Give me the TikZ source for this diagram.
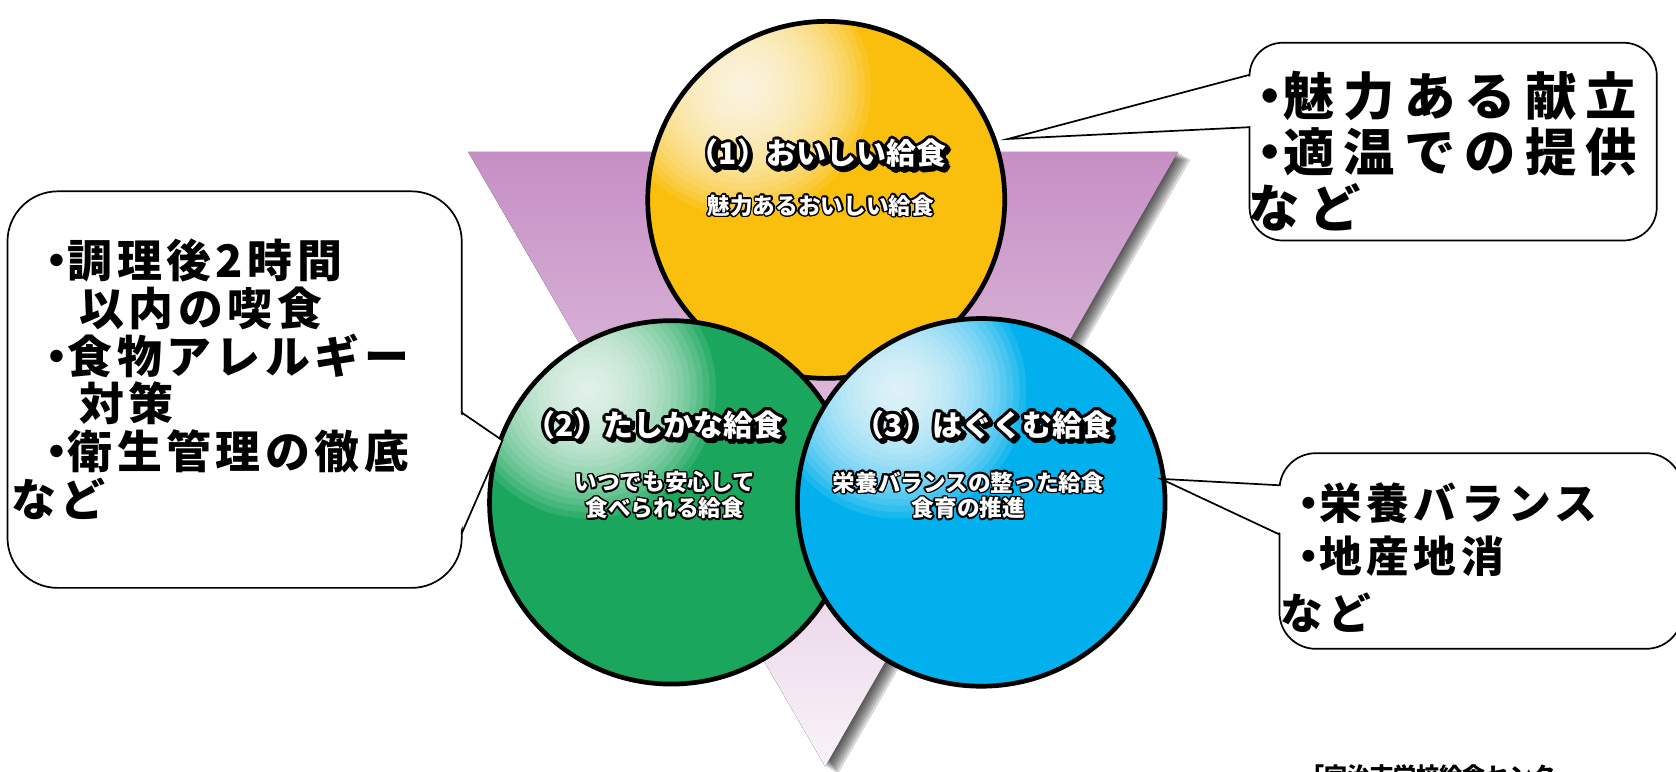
\documentclass[tikz,border=0pt]{standalone}
\usepackage{fontspec}
\usepackage{contour}
\usetikzlibrary{calc}
\newfontfamily\jp{Noto Sans CJK JP}
\definecolor{tri}{RGB}{198,143,196}
\definecolor{ylw}{RGB}{250,191,12}
\definecolor{grn}{RGB}{27,166,93}
\definecolor{blu}{RGB}{2,176,238}
\def\bul{{\addfontfeature{RawFeature=+palt}・}}
\def\ttl#1{\contourlength{1.3pt}\rlap{\hspace{1.3pt}\raisebox{-1.3pt}{\textcolor{black}{\contour{black}{#1}}}}\contour{black}{#1}}
\def\sbt#1{\contourlength{0.7pt}\contour{black}{#1}}

\tikzset{
	ball/.style={circle, draw=black, line width=2.2pt, fill=#1, inner sep=0pt,
		path picture={\foreach \r in {3,6,...,60}
			\fill[white, opacity=0.1] ($(path picture bounding box.center)+(-78,-105)$) circle [radius=\r pt];}},
	bubble/.style={draw=black, line width=0.8pt, fill=white},
	ttlfont/.style={text=white, inner sep=0pt, font=\jp\bfseries\fontsize{14}{15}\selectfont},
	sbtfont/.style={text=white, inner sep=0pt, align=center, font=\jp\bfseries\fontsize{10.6}{12}\selectfont},
	note/.style 2 args={anchor=base west, inner sep=0pt, font=\jp\bfseries\fontsize{#1}{#1}\selectfont\addfontfeature{LetterSpace=#2}},
}

\begin{document}
\begin{tikzpicture}[x=0.5pt, y=-0.5pt]
		%%%%% START %%%%%
		\useasboundingbox[fill=white] (0,0) rectangle (1568,722);
		
		% triangle + shadow
		\coordinate (triL) at (438,142);
		\coordinate (triR) at (1102,142);
		\coordinate (triB) at (772,717);
		\foreach \d in {2,4,...,12}
			\fill[black, opacity=0.15] ($(triL)+(\d,0.6*\d)$) -- ($(triR)+(\d,0.6*\d)$) -- ($(triB)+(\d,0.6*\d)$) -- cycle;
		\fill[top color=tri, middle color=tri!80, bottom color=tri!10] (triL) -- (triR) -- (triB) -- cycle;
		
		% balls
		\node[ball=ylw, minimum size=167pt] (oishii) at (773,187) {};
		\node[ball=grn, minimum size=170pt] (tashika) at (628,470) {};
		\node[ball=blu, minimum size=172pt] (hagukumu) at (918,470) {};
		
		\node[ttlfont] (t1) at (765,146) {\ttl{（1）おいしい給食}};
		\node[sbtfont] (s1) at (768,193) {\sbt{魅力あるおいしい給食}};
		\node[ttlfont] (t2) at (612,400) {\ttl{（2）たしかな給食}};
		\node[sbtfont] (s2) at (622,464) {\sbt{いつでも安心して}\\\sbt{食べられる給食}};
		\node[ttlfont] (t3) at (920,400) {\ttl{（3）はぐくむ給食}};
		\node[sbtfont] (s3) at (906,464) {\sbt{栄養バランスの整った給食}\\\sbt{食育の推進}};
		
		% callout top right
		\coordinate (tipA) at (943,130);
		\draw[bubble, rounded corners=15.5pt] (1169,40) rectangle (1550,225);
		\fill[white] (1171,71) -- (tipA) -- (1171,118) -- cycle;
		\draw[line width=0.8pt] (1169,70) -- (tipA) -- (1169,119);
		\node[note={24}{18}] (a1) at (1176,108) {\bul 魅力ある献立};
		\node[note={24}{18}] (a2) at (1176,160) {\bul 適温での提供};
		\node[note={24}{18}] (a3) at (1168,213) {など};
		
		% callout left
		\coordinate (tipB) at (470,412);
		\draw[bubble, rounded corners=23.5pt] (7,179) rectangle (432,550);
		\fill[white] (430,387) -- (tipB) -- (430,498) -- cycle;
		\draw[line width=0.8pt] (432,386) -- (tipB) -- (432,499);
		\node[note={21}{10}] (b1) at (42,260) {\bul 調理後2時間};
		\node[note={21}{10}] (b2) at (74,304.6) {以内の喫食};
		\node[note={21}{10}] (b3) at (42,349.2) {\bul 食物アレルギー};
		\node[note={21}{10}] (b4) at (74,393.8) {対策};
		\node[note={21}{10}] (b5) at (42,438.4) {\bul 衛生管理の徹底};
		\node[note={21}{10}] (b6) at (10,483) {など};
		
		% callout bottom right
		\coordinate (tipC) at (1086,448);
		\draw[bubble, rounded corners=17pt] (1197,424) rectangle (1574,607);
		\fill[white] (1199,455) -- (tipC) -- (1199,499) -- cycle;
		\draw[line width=0.8pt] (1197,454) -- (tipC) -- (1197,500);
		\node[note={20}{10.5}] (c1) at (1214,486) {\bul 栄養バランス};
		\node[note={20}{10.5}] (c2) at (1214,536) {\bul 地産地消};
		\node[note={20}{10.5}] (c3) at (1198,589) {など};
		
		\node[anchor=base west, inner sep=0pt, font=\jp\bfseries\fontsize{10.8}{12}\selectfont] (src) at (1217,734) {「宇治市学校給食センター};
		
		%%%%% END %%%%%
	\end{tikzpicture}
\end{document}
